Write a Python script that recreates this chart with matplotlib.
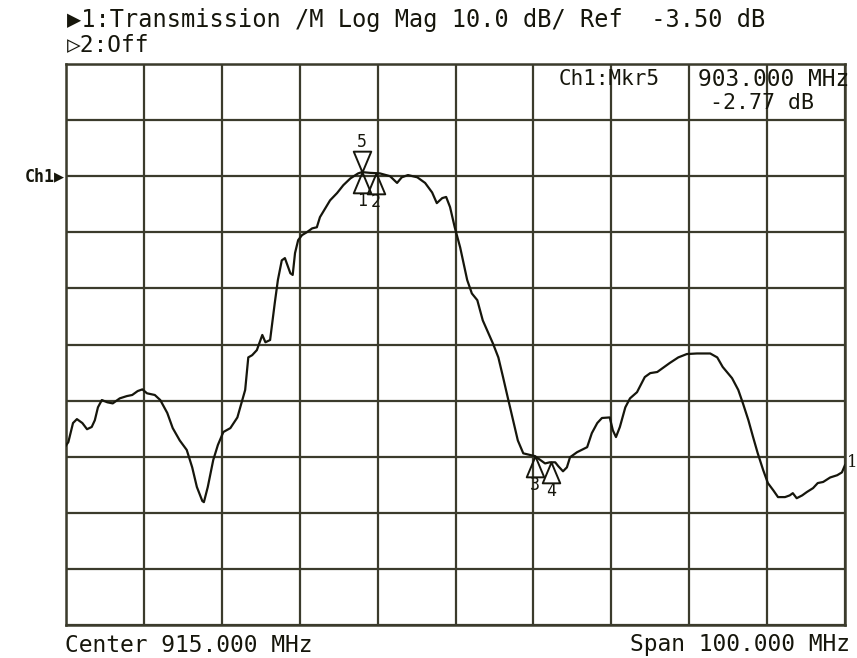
import numpy as np
import matplotlib
matplotlib.use("Agg")
import matplotlib.pyplot as plt
from matplotlib.path import Path
import matplotlib.transforms as mtransforms

MONO = ['DejaVu Sans Mono', 'DejaVu Sans']

# Trace (MHz, dB)
freq_mhz = [865.0, 865.3, 865.9, 866.4, 867.1, 867.7, 868.3, 868.7, 869.1, 869.6,
            870.3, 871.0, 871.9, 872.8, 873.5, 874.2, 874.8, 875.4, 876.4, 877.1,
            878.0, 878.7, 879.6, 880.5, 881.2, 881.8, 882.5, 882.7, 883.2, 883.9,
            884.5, 885.2, 886.1, 887.0, 888.0, 888.4, 888.9, 889.5, 890.2, 890.6,
            891.2, 891.8, 892.2, 892.7, 893.1, 893.8, 894.1, 894.4, 894.8, 895.3,
            895.9, 896.6, 897.2, 897.6, 898.3, 898.9, 899.8, 900.6, 901.5, 902.5,
            903.0, 904.0, 905.3, 906.6, 907.5, 908.1, 908.9, 910.1, 911.1, 912.0,
            912.6, 913.3, 913.8, 914.3, 914.9, 915.6, 916.5, 917.1, 917.8, 918.5,
            919.8, 920.5, 921.1, 921.7, 922.4, 923.0, 923.7, 924.6, 925.2, 925.9,
            926.5, 927.1, 927.8, 928.2, 928.8, 929.3, 929.7, 930.6, 931.9, 932.5,
            933.2, 933.8, 934.8, 935.2, 935.6, 936.1, 936.8, 937.4, 938.3, 939.3,
            940.0, 940.9, 941.6, 942.5, 943.6, 944.7, 946.0, 947.7, 948.6, 949.3,
            950.5, 951.3, 951.9, 952.6, 953.2, 953.8, 954.5, 955.1, 955.8, 956.4,
            957.3, 957.9, 958.3, 958.8, 959.5, 960.1, 960.9, 961.5, 962.2, 963.1,
            964.0, 964.6, 965.0]
trace_db = [-51.5, -50.9, -47.5, -46.8, -47.5, -48.6, -48.2, -47.0, -44.7, -43.4,
            -43.8, -44.0, -43.1, -42.7, -42.5, -41.8, -41.5, -42.2, -42.5, -43.4,
            -45.7, -48.4, -50.6, -52.3, -55.4, -58.9, -61.4, -61.6, -58.9, -54.1,
            -51.4, -49.1, -48.4, -46.5, -41.6, -35.8, -35.4, -34.5, -31.8, -33.1,
            -32.7, -26.1, -22.0, -18.5, -18.1, -20.8, -21.1, -17.2, -14.9, -14.0,
            -13.5, -12.8, -12.6, -10.8, -9.2, -7.8, -6.5, -5.1, -3.9, -3.0,
            -2.77, -2.9, -3.0, -3.5, -4.7, -3.7, -3.3, -3.7, -4.7, -6.4,
            -8.3, -7.4, -7.2, -9.0, -12.6, -16.2, -22.0, -24.4, -25.6, -29.2,
            -33.3, -35.8, -39.3, -42.9, -47.0, -50.6, -52.9, -53.2, -53.4, -54.1,
            -54.7, -54.5, -54.5, -55.2, -56.1, -55.4, -53.6, -52.7, -51.8, -49.3,
            -47.5, -46.6, -46.5, -48.8, -50.0, -48.2, -44.7, -43.1, -42.0, -39.3,
            -38.6, -38.4, -37.7, -36.8, -35.8, -35.2, -35.1, -35.1, -35.8, -37.5,
            -39.5, -41.6, -44.0, -47.0, -50.0, -52.9, -55.9, -58.2, -59.5, -60.7,
            -60.7, -60.4, -60.0, -60.9, -60.4, -59.8, -59.1, -58.2, -58.0, -57.2,
            -56.8, -56.3, -55.0]

# Markers (number, frequency MHz)
marker_ids = ['1', '2', '3', '4', '5']
marker_freqs = [903.0, 904.8, 925.2, 927.3, 903.0]

CENTER = 915.0
SPAN = 100.0
REF = -3.50
SCALE = 10.0
REF_POS = 8  # divisions from bottom

fig = plt.figure(figsize=(8.57, 6.58), dpi=100)
ax = fig.add_axes([66/857, 1-625/658, 779/857, 561/658])

ink = '#16160c'
grid_c = '#3b3b2c'

ax.plot(freq_mhz, trace_db, color=ink, lw=1.6, zorder=3)

x0 = CENTER - SPAN/2
ybot = REF - REF_POS*SCALE
ax.set_xlim(x0, x0 + SPAN)
ax.set_ylim(ybot, ybot + 10*SCALE)
ax.set_xticks(np.arange(x0, x0 + SPAN + 1, SPAN/10))
ax.set_yticks(np.arange(ybot, ybot + 10*SCALE + 1, SCALE))
ax.tick_params(length=0, labelbottom=False, labelleft=False)
ax.grid(True, color=grid_c, lw=1.6)
for s in ax.spines.values():
    s.set_color(grid_c)
    s.set_linewidth(1.8)

# marker triangles, tip on the trace
up_tri = Path([(0, 0), (-0.42, -1), (0.42, -1), (0, 0)],
              [Path.MOVETO, Path.LINETO, Path.LINETO, Path.CLOSEPOLY])
down_tri = Path([(0, 0), (-0.42, 1), (0.42, 1), (0, 0)],
                [Path.MOVETO, Path.LINETO, Path.LINETO, Path.CLOSEPOLY])
for mid, mf in zip(marker_ids, marker_freqs):
    my = np.interp(mf, freq_mhz, trace_db)
    if mid == '5':
        ax.plot(mf, my, marker=down_tri, ms=30, mfc='none', mec=ink, mew=1.4, zorder=4)
        ax.annotate(mid, (mf, my), xytext=(0, 22), textcoords='offset points',
                    ha='center', va='center', fontsize=12, family=MONO, color=ink)
    else:
        ax.plot(mf, my, marker=up_tri, ms=30, mfc='none', mec=ink, mew=1.4, zorder=4)
        ax.annotate(mid, (mf, my), xytext=(0, -21), textcoords='offset points',
                    ha='center', va='center', fontsize=12, family=MONO, color=ink)

# end-of-trace label
ax.annotate('1', (freq_mhz[-1], trace_db[-1]), xytext=(1.5, 2), textcoords='offset points',
            ha='left', va='center', fontsize=12, family='DejaVu Serif', color=ink,
            annotation_clip=False)

# reference position indicator
trans = mtransforms.blended_transform_factory(ax.transAxes, ax.transData)
ax.text(-0.002, REF, 'Ch1\u25B6', transform=trans, ha='right', va='center',
        fontsize=12, family=MONO, color=ink, fontweight='bold')

# marker readout
ax.text(0.632, 0.973, 'Ch1:Mkr5', transform=ax.transAxes, ha='left', va='center',
        fontsize=15, family=MONO, color=ink)
ax.text(1.006, 0.973, '903.000 MHz', transform=ax.transAxes, ha='right', va='center',
        fontsize=16.5, family=MONO, color=ink)
ax.text(0.96, 0.93, '-2.77 dB', transform=ax.transAxes, ha='right', va='center',
        fontsize=15.5, family=MONO, color=ink)

# header / footer
fig.text(67/857, 1-20/658, '\u25B61:Transmission /M Log Mag 10.0 dB/ Ref  -3.50 dB',
         ha='left', va='center', fontsize=17, family=MONO, color=ink)
fig.text(67/857, 1-45/658, '\u25B72:Off', ha='left', va='center',
         fontsize=16.5, family=MONO, color=ink)
fig.text(65/857, 1-645/658, 'Center 915.000 MHz', ha='left', va='center',
         fontsize=16.5, family=MONO, color=ink)
fig.text(850/857, 1-645/658, 'Span 100.000 MHz', ha='right', va='center',
         fontsize=16.5, family=MONO, color=ink)

fig.savefig('out.png', dpi=100, facecolor='white')
